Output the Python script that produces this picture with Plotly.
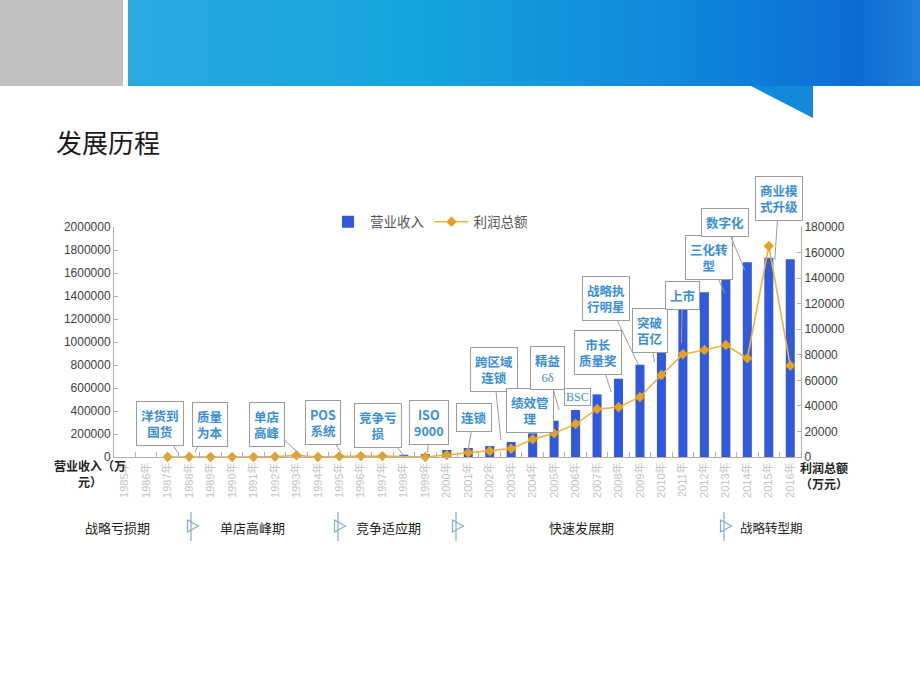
import plotly.graph_objects as go

# ---------------- data ----------------
years = list(range(1985, 2017))
year_labels = [f"{y}年" for y in years]

# 营业收入 (万元)
revenue = [None, None, None, None, None, None, None, None, 25000, None,
           None, None, None, 20000, 25000, 61000, 78000, 96000, 130000, 206000,
           316000, 409000, 545000, 681000, 803000, 1009000, 1299000, 1432000,
           1597000, 1693000, 1733000, 1719000]
# 利润总额 (万元)
profit = [None, None, 0, 200, 0, 0, 0, 200, 1300, 0,
          500, 700, 700, None, 0, 1600, 3400, 4700, 6500, 13800,
          18500, 25800, 37600, 38900, 47000, 64200, 80400, 83700,
          87600, 77200, 165100, 71500]

left_ticks = list(range(0, 2000001, 200000))
right_ticks = list(range(0, 180001, 20000))

# callouts: text, target year, target revenue value, box offset (px)
callout_text = ["洋货到<br>国货", "质量<br>为本", "单店<br>高峰", "POS<br>系统", "竞争亏<br>损",
                "ISO<br>9000", "连锁", "跨区域<br>连锁", "绩效管<br>理", "精益<br>6δ",
                "市长<br>质量奖", "战略执<br>行明星", "突破<br>百亿", "上市", "三化转<br>型",
                "数字化", "商业模<br>式升级"]
callout_year = [1987.48, 1988.27, 1993.04, 1995.05, 1997.99,
                1999.11, 2000.98, 2002.52, 2004.77, 2005.23,
                2007.66, 2008.93, 2009.67, 2010.93, 2012.94,
                2013.88, 2015.28]
callout_val = [35000, 43000, 43000, 43000, 17000,
               35000, 43000, 148000, 235000, 409000,
               565000, 800000, 826000, 991000, 1426000,
               1626000, 1713000]
callout_ax = [-18, 15, -30, -18, -26, 1, 6, -7, -19, -12, -13, -32, -4, 1, -16, -20, 4]
callout_ay = [-29, -28, -28, -30, -30, -30, -35, -70, -19, -42, -40, -67, -32, -48, -36, -48, -62]

phases = ["战略亏损期", "单店高峰期", "竞争适应期", "快速发展期", "战略转型期"]
phase_x = [117, 252, 388, 581, 771]
phase_arrow_x = [191, 338, 456, 724]

# ---------------- geometry helpers (decoration only) ----------------
W, H = 920, 690
ML, MR, MT, MB = 114, 119, 227, 233
PW, PH = W - ML - MR, H - MT - MB


def px(x):
    return (x - ML) / PW


def py(y):
    return (H - MB - y) / PH


CJK = "Noto Sans CJK SC"
LAT = "Liberation Sans, Noto Sans CJK SC"
BLUE_TXT = "#3a8ed8"

fig = go.Figure()

fig.add_trace(go.Bar(
    x=years, y=revenue, name="营业收入", width=0.42,
    marker=dict(color="#3159dc", line=dict(width=0)),
    yaxis="y",
))
fig.add_trace(go.Scatter(
    x=years, y=profit, name="利润总额", mode="lines+markers",
    line=dict(color="#f0b23a", width=1.6),
    marker=dict(symbol="diamond", size=8, color="#e6a21e"),
    connectgaps=True, cliponaxis=False, yaxis="y2",
))

shapes = []
# header: grey box
shapes.append(dict(type="rect", xref="paper", yref="paper",
                   x0=px(0), x1=px(123), y0=py(86), y1=py(0),
                   fillcolor="#c0c0c0", line=dict(width=0), layer="below"))
# header: blue gradient strips
stops = [(128, (40, 170, 225)), (420, (20, 164, 222)), (650, (16, 140, 220)),
         (860, (12, 108, 212)), (920, (30, 128, 218))]


def grad(x):
    for (xa, ca), (xb, cb) in zip(stops[:-1], stops[1:]):
        if xa <= x <= xb:
            t = (x - xa) / (xb - xa)
            return "rgb(%d,%d,%d)" % tuple(round(a + (b - a) * t) for a, b in zip(ca, cb))
    return "rgb(%d,%d,%d)" % stops[-1][1]


step = 8
x = 128
while x < 920:
    shapes.append(dict(type="rect", xref="paper", yref="paper",
                       x0=px(x), x1=px(min(x + step + 0.6, 920)), y0=py(86), y1=py(0),
                       fillcolor=grad(x + step / 2), line=dict(width=0), layer="below"))
    x += step
# speech tail
shapes.append(dict(type="path", xref="paper", yref="paper",
                   path=f"M {px(751)},{py(86)} L {px(813)},{py(86)} L {px(813)},{py(118)} Z",
                   fillcolor="#1389da", line=dict(width=0), layer="below"))

# phase arrow icons
for ax_ in phase_arrow_x:
    shapes.append(dict(type="line", xref="paper", yref="paper",
                       x0=px(ax_), x1=px(ax_), y0=py(512), y1=py(541),
                       line=dict(color="#7fb0c8", width=1.2)))
    shapes.append(dict(type="path", xref="paper", yref="paper",
                       path=f"M {px(ax_-3.5)},{py(520)} L {px(ax_+7.5)},{py(526)} L {px(ax_-3.5)},{py(532)} Z",
                       fillcolor="rgba(255,255,255,0)", line=dict(color="#7fb0c8", width=1.2)))

annotations = []
# title
annotations.append(dict(text="发展历程", xref="paper", yref="paper", x=px(54), y=py(141),
                        xanchor="left", yanchor="middle", showarrow=False,
                        font=dict(family=CJK, size=26, color="#1a1a1a")))
# axis titles
annotations.append(dict(text="<b>营业收入（万<br>元）</b>", xref="paper", yref="paper",
                        x=px(90), y=py(473), xanchor="center", yanchor="middle",
                        showarrow=False, align="center",
                        font=dict(family=CJK, size=12, color="#222222")))
annotations.append(dict(text="<b>利润总额<br>（万元）</b>", xref="paper", yref="paper",
                        x=px(850), y=py(475), xanchor="right", yanchor="middle",
                        showarrow=False, align="right",
                        font=dict(family=CJK, size=12, color="#222222")))
# phases
for t, xx in zip(phases, phase_x):
    annotations.append(dict(text=t, xref="paper", yref="paper", x=px(xx), y=py(527),
                            xanchor="center", yanchor="middle", showarrow=False,
                            font=dict(family=CJK, size=13 if t != "战略转型期" else 12.5,
                                      color="#1e1e1e")))
# callouts
for t, cx, cy, ax_, ay_ in zip(callout_text, callout_year, callout_val, callout_ax, callout_ay):
    if "6δ" in t:
        txt = "<b>精益</b><br><span style='font-family:Liberation Serif'>6δ</span>"
    else:
        txt = f"<b>{t}</b>"
    annotations.append(dict(text=txt, x=cx, y=cy, xref="x", yref="y",
                            ax=ax_, ay=ay_, showarrow=True, arrowhead=0,
                            arrowwidth=1, arrowcolor="#9c9c9c", standoff=0,
                            bordercolor="#9c9c9c", borderwidth=1, borderpad=4,
                            bgcolor="white", align="center",
                            font=dict(family=CJK, size=12.5, color=BLUE_TXT)))
# BSC box without tail
annotations.append(dict(text="BSC", x=2006.1, y=522000, xref="x", yref="y",
                        showarrow=False, bordercolor="#9c9c9c", borderwidth=1, borderpad=1,
                        bgcolor="white",
                        font=dict(family="Liberation Serif", size=12, color=BLUE_TXT)))

fig.update_layout(
    width=W, height=H, autosize=False,
    margin=dict(l=ML, r=MR, t=MT, b=MB),
    paper_bgcolor="white", plot_bgcolor="white",
    font=dict(family=LAT, size=12, color="#404040"),
    showlegend=True,
    legend=dict(orientation="h", x=px(326), xanchor="left", y=py(222), yanchor="middle",
                font=dict(family=CJK, size=13.5, color="#555555"),
                bgcolor="rgba(0,0,0,0)", itemwidth=34, tracegroupgap=0),
    xaxis=dict(range=[1984.5, 2016.5], tickvals=years, ticktext=year_labels,
               tickangle=-90, ticks="", showgrid=False, zeroline=False,
               showline=True, linecolor="#b0b0b0", linewidth=1,
               tickfont=dict(family=LAT, size=11, color="#c4c4c4"),
               minor=dict(tickvals=[y + 0.5 for y in years[:-1]], ticks="inside",
                          ticklen=5, tickcolor="#b0b0b0", showgrid=False)),
    yaxis=dict(range=[0, 2000000], tickvals=left_ticks, ticktext=[str(v) for v in left_ticks],
               showgrid=False, zeroline=False, showline=True, linecolor="#b0b0b0",
               ticks="inside", ticklen=4, tickcolor="#b0b0b0",
               tickfont=dict(family=LAT, size=12, color="#404040")),
    yaxis2=dict(range=[0, 180000], tickvals=right_ticks, ticktext=[str(v) for v in right_ticks],
                overlaying="y", side="right", showgrid=False, zeroline=False,
                showline=True, linecolor="#b0b0b0",
                ticks="inside", ticklen=4, tickcolor="#b0b0b0",
                tickfont=dict(family=LAT, size=12, color="#404040")),
    shapes=shapes,
    annotations=annotations,
)

fig.write_html("out.html")
